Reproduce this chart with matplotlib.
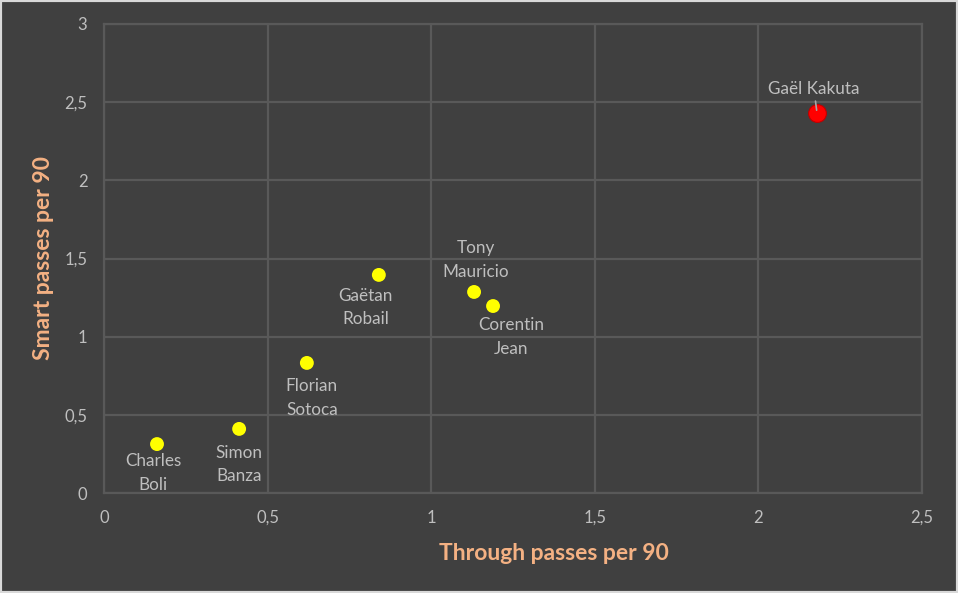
import matplotlib
matplotlib.use("Agg")
import matplotlib.pyplot as plt
from matplotlib.patches import Rectangle

players = ["Charles\nBoli", "Simon\nBanza", "Florian\nSotoca", "Gaëtan\nRobail",
           "Tony\nMauricio", "Corentin\nJean", "Gaël Kakuta"]
through_passes = [0.162, 0.413, 0.620, 0.840, 1.131, 1.189, 2.179]
smart_passes = [0.313, 0.410, 0.832, 1.395, 1.286, 1.196, 2.431]
highlight = [False, False, False, False, False, False, True]
x_ticks = [0, 0.5, 1, 1.5, 2, 2.5]
x_ticklabels = ["0", "0,5", "1", "1,5", "2", "2,5"]
y_ticks = [0, 0.5, 1, 1.5, 2, 2.5, 3]
y_ticklabels = ["0", "0,5", "1", "1,5", "2", "2,5", "3"]

# label offsets in pixels (layout only)
offsets = [(-4, -29), (0, -36), (5, -35), (-13, -33), (2, 32), (18, -31), (-3, 24)]

BG = "#404040"
GRID = "#595959"
TXT = "#bfbfbf"
TITLE = "#f4b183"

plt.rcParams['font.family'] = ['Lato', 'DejaVu Sans']

fig = plt.figure(figsize=(9.58, 5.93), dpi=100, facecolor=BG)
ax = fig.add_axes([104/958, 1-493/593, (922-104)/958, (493-24)/593])
ax.set_facecolor(BG)

ax.set_xlim(0, 2.5)
ax.set_ylim(0, 3)
ax.set_xticks(x_ticks)
ax.set_xticklabels(x_ticklabels)
ax.set_yticks(y_ticks)
ax.set_yticklabels(y_ticklabels)
ax.tick_params(length=0, colors=TXT, labelsize=12, pad=12)
ax.tick_params(axis='y', pad=12)
ax.grid(True, color=GRID, linewidth=1.6)
ax.set_axisbelow(True)
for s in ax.spines.values():
    s.set_color(GRID)
    s.set_linewidth(1.6)

for x, y, name, hl, off in zip(through_passes, smart_passes, players, highlight, offsets):
    if hl:
        ax.scatter([x], [y], s=165, color="#ff0000", edgecolors="#c00000",
                   linewidths=0.8, zorder=3)
        ax.annotate(name, xy=(x, y), xytext=off, textcoords='offset pixels',
                    ha='center', va='center', color=TXT, fontsize=12.3,
                    linespacing=1.55,
                    arrowprops=dict(arrowstyle='-', color='#a6a6a6', lw=1.2,
                                    shrinkA=1, shrinkB=2), zorder=4)
    else:
        ax.scatter([x], [y], s=100, color="#ffff00", edgecolors="none", zorder=3)
        ax.annotate(name, xy=(x, y), xytext=off, textcoords='offset pixels',
                    ha='center', va='center', color=TXT, fontsize=12.3,
                    linespacing=1.55, zorder=4)

fig.text(554/958, 1-553/593, "Through passes per 90", color=TITLE, fontsize=16.5,
         fontweight='bold', ha='center', va='center')
fig.text(44/958, 1-258/593, "Smart passes per 90", color=TITLE, fontsize=16.5,
         fontweight='bold', ha='center', va='center', rotation=90)

fig.patches.append(Rectangle((0, 0), 1, 1, transform=fig.transFigure, fill=False,
                             edgecolor="#d9d9d9", linewidth=3, zorder=10))

fig.savefig("out.png", dpi=100, facecolor=BG)
